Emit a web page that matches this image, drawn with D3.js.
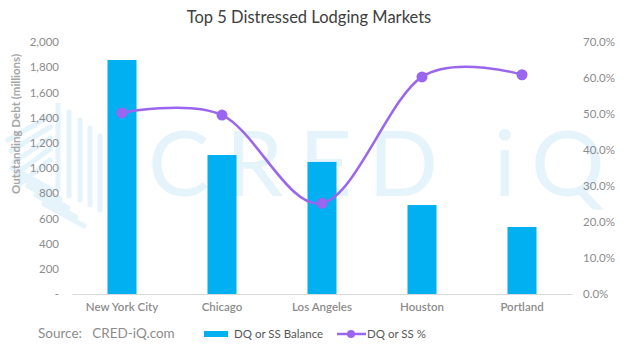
<!DOCTYPE html>
<html>
<head>
<meta charset="utf-8">
<script src="https://cdn.jsdelivr.net/npm/d3@7"></script>
<style>
  body { margin: 0; background: #fff; }
  text { font-family: Lato, "Open Sans", sans-serif; }
</style>
</head>
<body>
<div id="viz"></div>
<script>
const markets = ["New York City", "Chicago", "Los Angeles", "Houston", "Portland"];
const balance = [1857, 1103, 1048, 706, 532];        // millions
const pct = [50.3, 49.7, 25.2, 60.3, 60.9];          // %
const leftTicks = [0, 200, 400, 600, 800, 1000, 1200, 1400, 1600, 1800, 2000];
const rightTicks = [0, 10, 20, 30, 40, 50, 60, 70];

const width = 622;
const height = 352;
const svg = d3.select("#viz")
    .append("svg")
    .attr("width", width)
    .attr("height", height);

const margin = {top: 42, right: 50, left: 72, bottom: 58};
const innerWidth = width - margin.left - margin.right;
const innerHeight = height - margin.top - margin.bottom;

// faint watermark (logo + wordmark)
const wm = svg.append("g").attr("opacity", 0.5);
const wmColor = "#cde9f6";
[[58, 105, 190], [69, 112, 196], [80, 120, 200], [90, 128, 205], [100, 136, 210]].forEach(([x, y1, y2]) => {
    wm.append("line").attr("x1", x).attr("x2", x).attr("y1", y1).attr("y2", y2)
        .attr("stroke", wmColor).attr("stroke-width", 5).attr("stroke-linecap", "round");
});
for (let i = 0; i < 5; i++) {
    wm.append("line")
        .attr("x1", 8 + i * 3).attr("y1", 140 + i * 11)
        .attr("x2", 50).attr("y2", 116 + i * 11)
        .attr("stroke", wmColor).attr("stroke-width", 5).attr("stroke-linecap", "round");
    wm.append("line")
        .attr("x1", 12 + i * 8).attr("y1", 168 + i * 9)
        .attr("x2", 52 + i * 8).attr("y2", 190 + i * 9)
        .attr("stroke", wmColor).attr("stroke-width", 5).attr("stroke-linecap", "round");
}
wm.append("text")
    .attr("x", 148).attr("y", 196)
    .attr("fill", wmColor)
    .attr("font-size", 92)
    .attr("font-weight", 400)
    .attr("letter-spacing", 16)
    .style("font-family", "Lato, sans-serif")
    .text("CRED iQ");

const g = svg.append("g")
    .attr("transform", `translate(${margin.left}, ${margin.top})`);

const xScale = d3.scaleBand()
    .domain(markets)
    .range([0, innerWidth])
    .paddingInner(0.71)
    .paddingOuter(0.355);

const yScale = d3.scaleLinear()
    .domain([0, 2000])
    .range([innerHeight, 0]);

const y2Scale = d3.scaleLinear()
    .domain([0, 70])
    .range([innerHeight, 0]);

const tickColor = "#8c8c8c";

const yAxis = d3.axisLeft(yScale)
    .tickValues(leftTicks)
    .tickSize(0)
    .tickPadding(13)
    .tickFormat(d => d === 0 ? "-" : d3.format(",")(d));
const yAxisG = g.append("g").call(yAxis);
yAxisG.select(".domain").remove();
yAxisG.selectAll("text").attr("fill", tickColor).attr("font-size", 11.5);

const y2Axis = d3.axisRight(y2Scale)
    .tickValues(rightTicks)
    .tickSize(0)
    .tickPadding(11)
    .tickFormat(d => d3.format(".1f")(d) + "%");
const y2AxisG = g.append("g")
    .attr("transform", `translate(${innerWidth}, 0)`)
    .call(y2Axis);
y2AxisG.select(".domain").remove();
y2AxisG.selectAll("text").attr("fill", tickColor).attr("font-size", 11.5);

const xAxis = d3.axisBottom(xScale).tickSize(0).tickPadding(9);
const xAxisG = g.append("g")
    .attr("transform", `translate(0, ${innerHeight})`)
    .call(xAxis);
xAxisG.select(".domain").attr("stroke", "#d9d9d9");
xAxisG.selectAll("text").attr("fill", tickColor).attr("font-size", 11.5).attr("font-weight", 600);

g.append("text")
    .attr("transform", "rotate(-90)")
    .attr("x", -82)
    .attr("y", -52)
    .attr("text-anchor", "middle")
    .attr("fill", "#a6a6a6")
    .attr("font-size", 11.5)
    .attr("font-weight", 700)
    .text("Outstanding Debt (millions)");

// bars
g.selectAll("rect.bar").data(markets)
    .enter().append("rect")
        .attr("class", "bar")
        .attr("x", d => xScale(d))
        .attr("y", (d, i) => yScale(balance[i]))
        .attr("width", xScale.bandwidth())
        .attr("height", (d, i) => innerHeight - yScale(balance[i]))
        .attr("fill", "#00b0f0");

// line
const lineColor = "#9a66f0";
const cx = d => xScale(d) + xScale.bandwidth() / 2;
const line = d3.line()
    .x(d => cx(d))
    .y((d, i) => y2Scale(pct[i]))
    .curve(d3.curveCardinal.tension(0));
g.append("path")
    .datum(markets)
    .attr("d", line)
    .attr("fill", "none")
    .attr("stroke", lineColor)
    .attr("stroke-width", 2.5);
g.selectAll("circle.pt").data(markets)
    .enter().append("circle")
        .attr("class", "pt")
        .attr("cx", d => cx(d))
        .attr("cy", (d, i) => y2Scale(pct[i]))
        .attr("r", 5.5)
        .attr("fill", lineColor);

// title
svg.append("text")
    .attr("x", 309)
    .attr("y", 23)
    .attr("text-anchor", "middle")
    .attr("fill", "#404040")
    .attr("font-size", 16.5)
    .text("Top 5 Distressed Lodging Markets");

// source + legend
const legendY = 338;
svg.append("text")
    .attr("x", 38).attr("y", legendY)
    .attr("fill", "#8c8c8c")
    .attr("font-size", 13.5)
    .attr("xml:space", "preserve")
    .text("Source:   CRED-iQ.com");

svg.append("rect")
    .attr("x", 204).attr("y", legendY - 7)
    .attr("width", 24).attr("height", 6)
    .attr("fill", "#00b0f0");
svg.append("text")
    .attr("x", 234).attr("y", legendY)
    .attr("fill", "#595959")
    .attr("font-size", 11.5)
    .text("DQ or SS Balance");

svg.append("line")
    .attr("x1", 337).attr("x2", 366)
    .attr("y1", legendY - 4).attr("y2", legendY - 4)
    .attr("stroke", lineColor).attr("stroke-width", 2.5);
svg.append("circle")
    .attr("cx", 351).attr("cy", legendY - 4).attr("r", 4)
    .attr("fill", lineColor);
svg.append("text")
    .attr("x", 367).attr("y", legendY)
    .attr("fill", "#595959")
    .attr("font-size", 11.5)
    .text("DQ or SS %");
</script>
</body>
</html>
